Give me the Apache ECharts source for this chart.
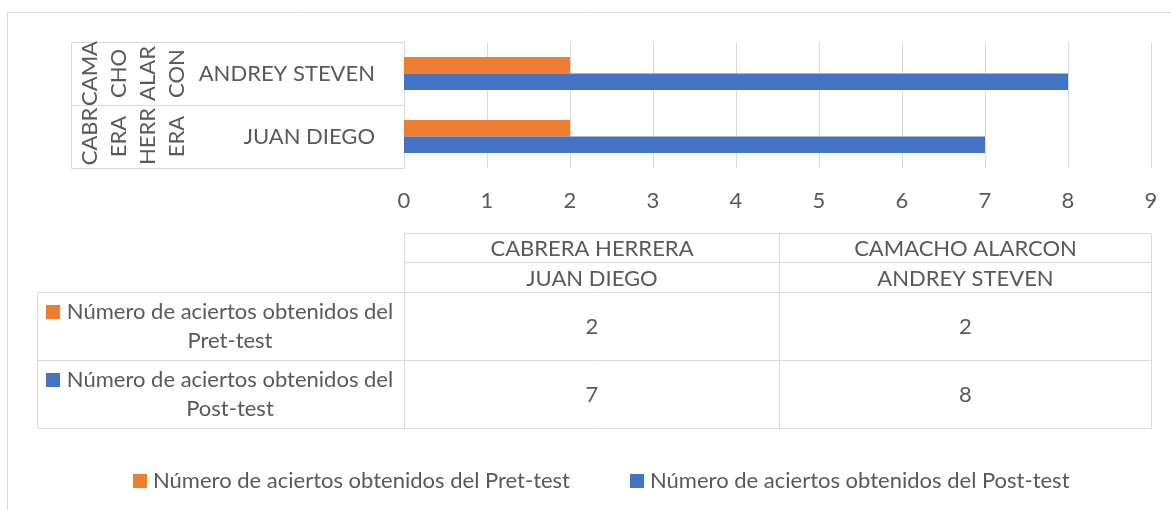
<!DOCTYPE html>
<html><head><meta charset="utf-8">
<script src="https://cdn.jsdelivr.net/npm/echarts@6/dist/echarts.min.js"></script>
<style>html,body{margin:0;padding:0;background:#fff}#c{width:1171px;height:510px}</style>
</head><body><div id="c"></div>
<script>
// ---- data ----
const firstNames = ['JUAN DIEGO', 'ANDREY STEVEN'];
const lastNames = ['CABRERA HERRERA', 'CAMACHO ALARCON'];
const seriesNames = ['Número de aciertos obtenidos del Pret-test', 'Número de aciertos obtenidos del Post-test'];
const preTest = [2, 2];
const postTest = [7, 8];
const xMin = 0, xMax = 9, xStep = 1;
const colors = ['#ED7D31', '#4472C4'];

// ---- style ----
const FONT = 'Lato, "Open Sans", sans-serif';
const FS = 22;
const TXT = '#595959';
const LINE = '#D9D9D9';
const G = { left: 404, top: 42, width: 747, height: 126 };

const chart = echarts.init(document.getElementById('c'));
const option = {
  animation: false,
  backgroundColor: '#fff',
  textStyle: { fontFamily: FONT },
  color: colors,
  grid: { left: G.left, top: G.top, width: G.width, height: G.height, containLabel: false },
  legend: {
    left: 128, top: 465,
    itemWidth: 14, itemHeight: 14, itemGap: 60,
    icon: 'rect',
    textStyle: { color: TXT, fontSize: FS, fontFamily: FONT, padding: [0, 0, 0, 1] },
    data: seriesNames
  },
  xAxis: {
    type: 'value', min: xMin, max: xMax, interval: xStep,
    axisLine: { show: false }, axisTick: { show: false },
    splitLine: { show: true, lineStyle: { color: LINE, width: 1 } },
    axisLabel: { color: TXT, fontSize: FS, fontFamily: FONT, margin: 22 }
  },
  yAxis: {
    type: 'category', data: firstNames,
    axisLine: { show: true, lineStyle: { color: LINE, width: 1 } },
    axisTick: { show: false },
    axisLabel: { color: TXT, fontSize: FS, fontFamily: FONT, margin: 29 }
  },
  series: [
    { name: seriesNames[0], type: 'bar', data: preTest, barGap: '0%', barCategoryGap: '47.6%' },
    { name: seriesNames[1], type: 'bar', data: postTest, barGap: '0%', barCategoryGap: '47.6%' }
  ]
};
chart.setOption(option);

// ---- decorations: category label table, data table, frame ----
const g = [];
const line = (x1, y1, x2, y2) => g.push({ type: 'line', silent: true, shape: { x1, y1, x2, y2 }, style: { stroke: LINE, lineWidth: 1 } });
const text = (x, y, t, extra) => g.push(Object.assign({ type: 'text', silent: true, x, y,
  style: { text: t, fill: TXT, font: FS + 'px ' + FONT, align: 'center', verticalAlign: 'middle', lineHeight: 29 } }, extra || {}));

// outer frame
g.push({ type: 'rect', silent: true, shape: { x: 7.5, y: 12.5, width: 1300, height: 700 }, style: { fill: 'none', stroke: LINE, lineWidth: 1 } });

// y category boundaries from axis
const yTop = G.top + 0.5, yBot = G.top + G.height + 0.5;
const yc = firstNames.map(n => chart.convertToPixel({ yAxisIndex: 0 }, n));
const yMid = Math.round((yc[0] + yc[1]) / 2) + 0.5;
const tblL = 71.5, axisX = G.left + 0.5;
line(tblL, yTop, axisX, yTop);
line(tblL, yMid, axisX, yMid);
line(tblL, yBot, axisX, yBot);
line(tblL, yTop, tblL, yBot);

// rotated outer (surname) labels
const wrapSurname = s => s.split(' ').map(w => [w.slice(0, 4), w.slice(4)]).flat().join('\n');
lastNames.forEach((s, i) => {
  text(133, yc[i], wrapSurname(s), { rotation: Math.PI / 2 });
});

// data table
const rows = [233.5, 262.5, 292.5, 360.5, 428.5];
const colL = 37.5, colA = G.left + 0.5, colM = 779.5, colR = G.left + G.width + 0.5;
line(colA, rows[0], colR, rows[0]);
line(colA, rows[1], colR, rows[1]);
line(colL, rows[2], colR, rows[2]);
line(colL, rows[3], colR, rows[3]);
line(colL, rows[4], colR, rows[4]);
line(colL, rows[2], colL, rows[4]);
line(colA, rows[0], colA, rows[4]);
line(colM, rows[0], colM, rows[4]);
line(colR, rows[0], colR, rows[4]);

// category order in table: JUAN (CABRERA) then ANDREY (CAMACHO)
const colCenters = [(colA + colM) / 2, (colM + colR) / 2];
const vals = [preTest, postTest];
firstNames.forEach((n, i) => {
  text(colCenters[i], (rows[0] + rows[1]) / 2 + 1, lastNames[i]);
  text(colCenters[i], (rows[1] + rows[2]) / 2 + 1, n);
  vals.forEach((arr, r) => text(colCenters[i], (rows[2 + r] + rows[3 + r]) / 2, String(arr[i])));
});
seriesNames.forEach((name, r) => {
  const cy = (rows[2 + r] + rows[3 + r]) / 2;
  const wrapped = name.replace(/ (\S+)$/, '\n$1');
  text(230, cy, wrapped);
  g.push({ type: 'rect', silent: true, shape: { x: 46, y: cy - 14.5 - 7, width: 14, height: 14 }, style: { fill: colors[r] } });
});

chart.setOption({ graphic: g });
</script>
</body></html>
